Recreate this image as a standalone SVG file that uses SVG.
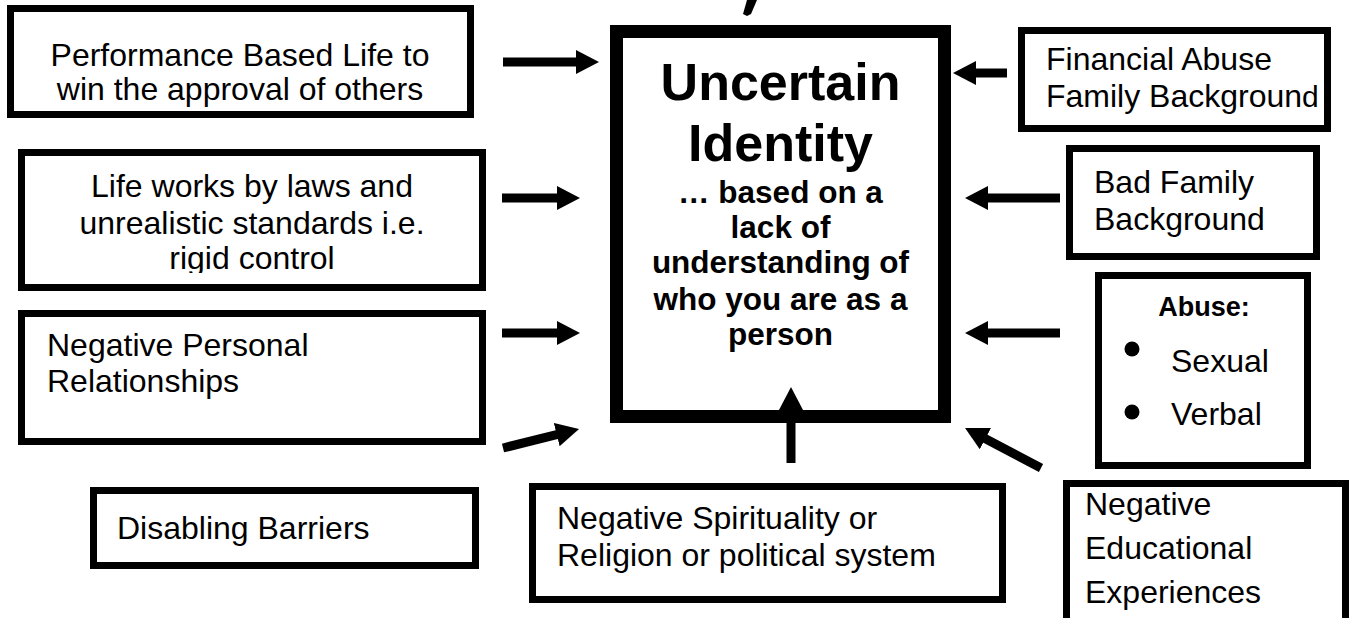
<svg xmlns="http://www.w3.org/2000/svg" width="1351" height="618" viewBox="0 0 1351 618">
<style>
.box{fill:#fff;stroke:#000;stroke-width:7}
.main{fill:#fff;stroke:#000;stroke-width:13}
.t{font-family:"Liberation Sans",Arial,sans-serif;font-size:32px;fill:#000}
.b{font-family:"Liberation Sans",Arial,sans-serif;font-weight:bold;fill:#000}
.arr{stroke:#000;stroke-width:9;fill:none;marker-end:url(#ah)}
</style>
<defs>
<marker id="ah" markerUnits="userSpaceOnUse" markerWidth="24" markerHeight="24" viewBox="0 0 24 24" refX="1" refY="12" orient="auto">
<path d="M0,0 L23,12 L0,24 z" fill="#000"/>
</marker>
<clipPath id="clipB"><rect x="0" y="0" width="1351" height="273"/></clipPath>
</defs>
<rect width="1351" height="618" fill="#fff"/>
<polygon points="747,0 757,0 751,14 747,16 743,14" fill="#000"/>

<g id="center">
<rect class="main" x="616.5" y="31.5" width="328" height="385"/>
<text class="b" font-size="52" text-anchor="middle" x="780.5" y="100">Uncertain</text>
<text class="b" font-size="52" text-anchor="middle" x="780.5" y="161">Identity</text>
<text class="b" font-size="31.5" text-anchor="middle" x="780.5" y="203">… based on a</text>
<text class="b" font-size="31.5" text-anchor="middle" x="780.5" y="238">lack of</text>
<text class="b" font-size="31.5" text-anchor="middle" x="780.5" y="273">understanding of</text>
<text class="b" font-size="31.5" text-anchor="middle" x="780.5" y="310">who you are as a</text>
<text class="b" font-size="31.5" text-anchor="middle" x="780.5" y="345">person</text>
</g>

<g id="performance">
<rect class="box" x="10.5" y="8.5" width="460" height="106"/>
<text class="t" text-anchor="middle" x="240" y="66">Performance Based Life to</text>
<text class="t" text-anchor="middle" x="240" y="100">win the approval of others</text>
</g>

<g id="laws">
<rect class="box" x="21.5" y="152.5" width="461" height="135"/>
<text class="t" text-anchor="middle" x="252" y="197">Life works by laws and</text>
<text class="t" text-anchor="middle" x="252" y="234">unrealistic standards i.e.</text>
<text class="t" text-anchor="middle" x="252" y="269" clip-path="url(#clipB)">rigid control</text>
</g>

<g id="relationships">
<rect class="box" x="21.5" y="313.5" width="461" height="128"/>
<text class="t" x="47" y="356">Negative Personal</text>
<text class="t" x="47" y="392">Relationships</text>
</g>

<g id="barriers">
<rect class="box" x="93.5" y="490.5" width="382" height="75"/>
<text class="t" x="117" y="539">Disabling Barriers</text>
</g>

<g id="spirituality">
<rect class="box" x="532.5" y="486.5" width="470" height="113"/>
<text class="t" x="557" y="529">Negative Spirituality or</text>
<text class="t" x="557" y="566">Religion or political system</text>
</g>

<g id="financial">
<rect class="box" x="1021.5" y="30.5" width="306" height="98"/>
<text class="t" font-size="26" x="1046" y="70">Financial Abuse</text>
<text class="t" font-size="26" x="1046" y="107">Family Backgroun<tspan font-size="30">d</tspan></text>
</g>

<g id="badfamily">
<rect class="box" x="1069.5" y="148.5" width="247" height="108"/>
<text class="t" x="1094" y="193">Bad Family</text>
<text class="t" x="1094" y="230">Background</text>
</g>

<g id="abuse">
<rect class="box" x="1098.5" y="275.5" width="209" height="190"/>
<text class="b" font-size="27" text-anchor="middle" x="1204" y="316">Abuse:</text>
<circle cx="1132" cy="349" r="7.5" fill="#000"/>
<text class="t" font-size="26" x="1171" y="372">Sexual</text>
<circle cx="1132" cy="412" r="7.5" fill="#000"/>
<text class="t" font-size="26" x="1171" y="425">Verbal</text>
</g>

<g id="education">
<rect class="box" x="1066.5" y="483.5" width="279" height="145"/>
<text class="t" x="1085" y="515">Negative</text>
<text class="t" x="1085" y="559">Educational</text>
<text class="t" x="1085" y="603">Experiences</text>
</g>

<g id="connectors">
<line class="arr" x1="503" y1="62" x2="577" y2="62"/>
<line class="arr" x1="502" y1="198" x2="558" y2="198"/>
<line class="arr" x1="502" y1="333" x2="558" y2="333"/>
<line class="arr" x1="503" y1="448" x2="557.7" y2="434.3"/>
<line class="arr" x1="791" y1="463" x2="791" y2="409"/>
<line class="arr" x1="1007" y1="73" x2="975" y2="73"/>
<line class="arr" x1="1060" y1="198" x2="987" y2="198"/>
<line class="arr" x1="1060" y1="333" x2="987" y2="333"/>
<line class="arr" x1="1041" y1="468" x2="984.5" y2="438.2"/>
</g>
</svg>
